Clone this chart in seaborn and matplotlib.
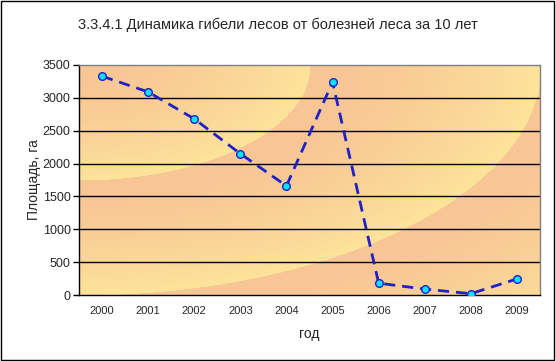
import numpy as np
import pandas as pd
import matplotlib
matplotlib.use('Agg')
import matplotlib.pyplot as plt
import seaborn as sns
from matplotlib.colors import to_rgb
from matplotlib.ticker import FixedLocator

years = ['2000', '2001', '2002', '2003', '2004', '2005', '2006', '2007', '2008', '2009']
area = [3330, 3090, 2680, 2150, 1660, 3240, 180, 90, 20, 245]

sns.set_style('white')
plt.rcParams['font.family'] = ['Liberation Sans', 'DejaVu Sans']

df = pd.DataFrame({'pos': np.arange(len(years)), 'area': area})

fig = plt.figure(figsize=(5.56, 3.61), dpi=100)
ax = fig.add_axes([79 / 556, 1 - 295 / 361, 461 / 556, 230 / 361])

# фон с дугами (имитация текстуры Excel)
h, w = 230, 461
yy, xx = np.mgrid[0:h, 0:w]
r = np.sqrt((xx / 231.0) ** 2 + (yy / 115.0) ** 2)
t = (r % 1.0) ** 1.6
orange = np.array(to_rgb('#f8c595'))
yellow = np.array(to_rgb('#fde49b'))
img = orange + (yellow - orange) * t[..., None]
ax.imshow(img, extent=[-0.5, 9.5, 0, 3500], origin='upper', aspect='auto', zorder=0)

for v in range(500, 3500, 500):
    ax.axhline(v, color='black', lw=1, zorder=1)

sns.lineplot(data=df, x='pos', y='area', ax=ax, color='#2020c8', lw=2,
             linestyle=(0, (4, 2.5)), marker='o', markersize=5.5,
             markerfacecolor='#10e0ff', markeredgecolor='#2020c8',
             markeredgewidth=1, zorder=3)

ax.set_xlim(-0.5, 9.5)
ax.set_ylim(0, 3500)
ax.set_yticks(range(0, 3501, 500))
ax.set_xticks(range(len(years)))
ax.set_xticklabels(years, fontsize=8)
ax.xaxis.set_minor_locator(FixedLocator(np.arange(-0.5, 10, 1)))
ax.tick_params(axis='x', which='major', length=0, pad=8)
ax.tick_params(axis='x', which='minor', length=4, width=1, color='black', direction='out')
ax.tick_params(axis='y', length=4, width=1, color='black', direction='out', labelsize=9, pad=2)
ax.tick_params(bottom=True, left=True)
ax.tick_params(axis='x', which='major', bottom=False)

for s in ['left', 'bottom']:
    ax.spines[s].set_color('black')
    ax.spines[s].set_linewidth(1)
for s in ['top', 'right']:
    ax.spines[s].set_color('#808080')
    ax.spines[s].set_linewidth(1)

ax.set_xlabel('год', fontsize=10, labelpad=8)
ax.set_ylabel('Площадь, га', fontsize=10, labelpad=1)
fig.text(0.5, 1 - 25 / 361, '3.3.4.1 Динамика гибели лесов от болезней леса за 10 лет',
         ha='center', va='center', fontsize=10.5)

fig.patches.append(plt.Rectangle((0.002, 0.003), 0.994, 0.993, transform=fig.transFigure,
                                 fill=False, edgecolor='black', lw=1))

fig.savefig('out.png', dpi=100)
